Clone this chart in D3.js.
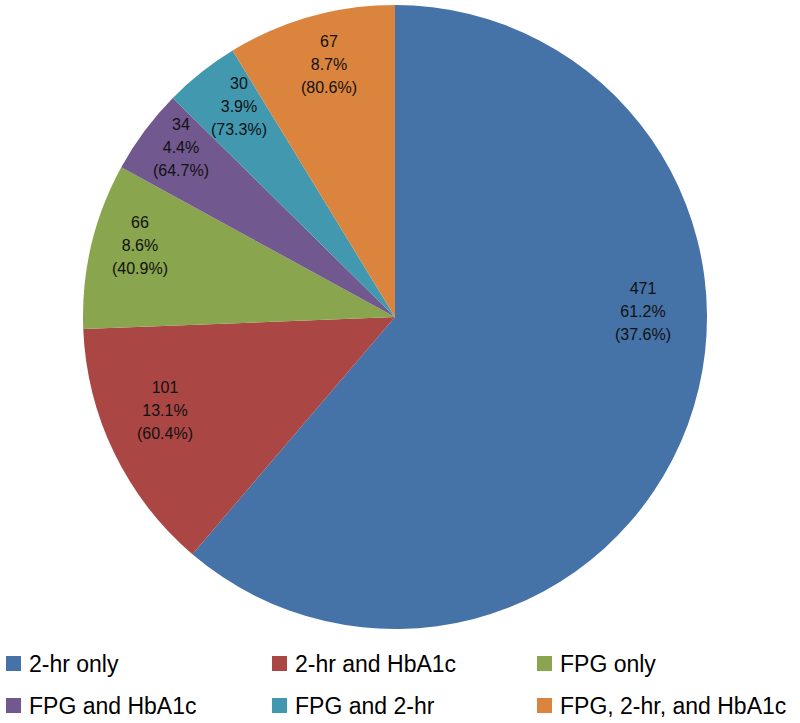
<!DOCTYPE html>
<html>
<head>
<meta charset="utf-8">
<script src="https://cdn.jsdelivr.net/npm/d3@7"></script>
<style>
  html, body { margin: 0; padding: 0; background: #fff; }
  svg { display: block; }
</style>
</head>
<body>
<svg id="chart" width="800" height="723"></svg>
<script>
// ---- data ----
const categories = ["2-hr only", "2-hr and HbA1c", "FPG only", "FPG and HbA1c", "FPG and 2-hr", "FPG, 2-hr, and HbA1c"];
const counts = [471, 101, 66, 34, 30, 67];
const sharePct = ["61.2%", "13.1%", "8.6%", "4.4%", "3.9%", "8.7%"];
const innerPct = ["(37.6%)", "(60.4%)", "(40.9%)", "(64.7%)", "(73.3%)", "(80.6%)"];

// ---- styles / layout ----
const colors = ["#4572A7", "#AA4643", "#89A54E", "#71588F", "#4198AF", "#DB843D"];
const cx = 395, cy = 317, R = 312;
// label anchor positions (Excel best-fit placement) as [x, y] relative to pie centre
const labelOffsets = [[248, -6], [-230, 93], [-255, -72], [-214, -170], [-156, -211], [-66, -253]];
const legendCols = [6, 272, 537];
const legendRows = [656, 698];

const svg = d3.select("#chart");
const font = "'Liberation Sans', Arial, sans-serif";

const pie = d3.pie().sort(null).value(d => d)(counts);
const arc = d3.arc().innerRadius(0).outerRadius(R);

const g = svg.append("g").attr("transform", `translate(${cx},${cy})`);
g.selectAll("path.slice")
  .data(pie)
  .join("path")
  .attr("class", "slice")
  .attr("d", arc)
  .attr("fill", (d, i) => colors[i]);

const labels = g.selectAll("text.lbl")
  .data(pie)
  .join("text")
  .attr("class", "lbl")
  .attr("text-anchor", "middle")
  .attr("font-family", font)
  .attr("font-size", 16)
  .attr("fill", "#111");

labels.each(function(d, i) {
  const t = d3.select(this);
  const [ox, oy] = labelOffsets[i];
  const lines = [String(counts[i]), sharePct[i], innerPct[i]];
  lines.forEach((s, k) => {
    t.append("tspan")
      .attr("x", ox)
      .attr("y", oy + (k - 1) * 23)
      .attr("dy", "0.35em")
      .text(s);
  });
});

// ---- legend ----
const leg = svg.append("g");
categories.forEach((c, i) => {
  const col = i % 3, row = Math.floor(i / 3);
  const x = legendCols[col], y = legendRows[row];
  leg.append("rect")
    .attr("x", x).attr("y", y)
    .attr("width", 15).attr("height", 15)
    .attr("fill", colors[i]);
  leg.append("text")
    .attr("x", x + 23).attr("y", y + 15.5)
    .attr("font-family", font)
    .attr("font-size", 23)
    .attr("fill", "#000")
    .text(c);
});
</script>
</body>
</html>
